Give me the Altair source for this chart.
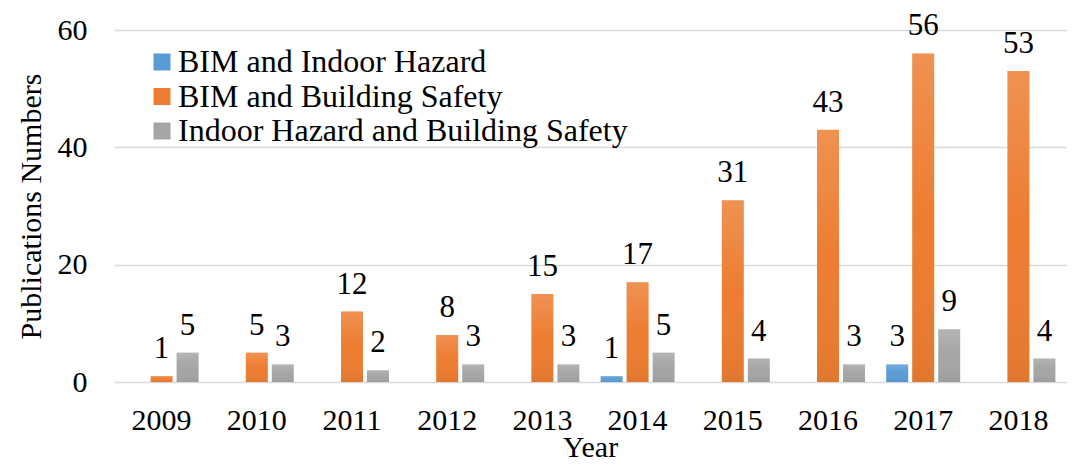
import altair as alt
import pandas as pd

years = ["2009", "2010", "2011", "2012", "2013", "2014", "2015", "2016", "2017", "2018"]
series = ["BIM and Indoor Hazard", "BIM and Building Safety", "Indoor Hazard and Building Safety"]
bim_indoor = [0, 0, 0, 0, 0, 1, 0, 0, 3, 0]
bim_safety = [1, 5, 12, 8, 15, 17, 31, 43, 56, 53]
indoor_safety = [5, 3, 2, 3, 3, 5, 4, 3, 9, 4]
colors = ["#5B9BD5", "#ED7D31", "#A5A5A5"]

rows = []
for s, vals in zip(series, [bim_indoor, bim_safety, indoor_safety]):
    for y, v in zip(years, vals):
        rows.append({"Year": y, "Series": s, "Value": v})
df = pd.DataFrame(rows)

FONT = "'Liberation Serif', 'Times New Roman', serif"

x_enc = alt.X("Year:N", sort=years,
              scale=alt.Scale(paddingInner=0.223, paddingOuter=0.1115),
              axis=alt.Axis(title="Year", labelAngle=0, domain=False, ticks=False,
                            labelFontSize=30, labelPadding=23, titleFontSize=30,
                            titleBaseline="alphabetic", titleY=74,
                            titleFontWeight="normal", grid=False))
xoff = alt.XOffset("Series:N", sort=series,
                   scale=alt.Scale(paddingInner=0.154, paddingOuter=0))
y_enc = alt.Y("Value:Q", scale=alt.Scale(domain=[0, 60], nice=False),
              axis=alt.Axis(title="Publications Numbers", values=[0, 20, 40, 60],
                            domain=False, ticks=False, labelFontSize=30, labelPadding=27,
                            titleFontSize=30, titlePadding=11, titleFontWeight="normal",
                            gridColor="#D9D9D9", gridWidth=1.5))

base = alt.Chart(df)

bars = base.mark_bar().encode(
    x=x_enc, xOffset=xoff, y=y_enc,
    color=alt.Color("Series:N", sort=series,
                    scale=alt.Scale(domain=series, range=colors),
                    legend=alt.Legend(title=None, orient="none", legendX=32, legendY=16,
                                      symbolType="square", symbolSize=289,
                                      symbolStrokeWidth=0, labelFontSize=32,
                                      labelOffset=0, rowPadding=2.5, padding=0,
                                      labelLimit=600)),
)

shade = base.mark_bar(
    color=alt.Gradient(
        gradient="linear", x1=0, y1=0, x2=0, y2=1,
        stops=[alt.GradientStop(color="rgba(255,255,255,0.16)", offset=0),
               alt.GradientStop(color="rgba(255,255,255,0.0)", offset=0.5),
               alt.GradientStop(color="rgba(0,0,0,0.05)", offset=1)])
).encode(x=alt.X("Year:N", sort=years), xOffset=alt.XOffset("Series:N", sort=series),
         y="Value:Q")

labels = base.transform_filter(alt.datum.Value > 0).mark_text(
    baseline="alphabetic", dy=-18, fontSize=31, font=FONT, color="black"
).encode(x=alt.X("Year:N", sort=years), xOffset=alt.XOffset("Series:N", sort=series),
         y="Value:Q", text="Value:Q")

chart = alt.layer(bars, shade, labels).properties(
    width=952, height=352,
    autosize=alt.AutoSizeParams(type="none"),
    padding={"left": 106, "top": 22, "right": 4, "bottom": 81},
).configure(font=FONT).configure_view(stroke=None).configure_axis(
    labelFont=FONT, titleFont=FONT, labelColor="black", titleColor="black"
).configure_legend(labelFont=FONT, labelColor="black")

chart.save("out.html", embed_options={"renderer": "svg", "actions": False})
